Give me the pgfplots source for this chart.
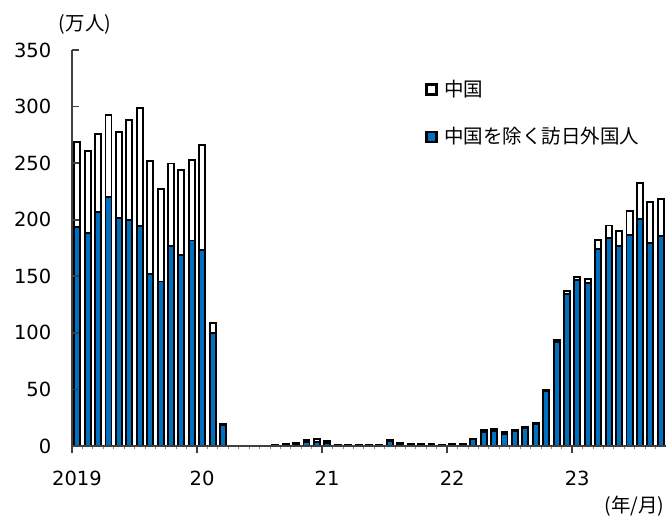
\documentclass[border=0pt]{standalone}
\usepackage{fontspec}
\setmainfont{DejaVu Sans}
\newfontfamily\jp{Noto Sans CJK JP}
\usepackage{pgfplots}
\pgfplotsset{compat=1.18}
\definecolor{visblue}{RGB}{0,112,192}
\definecolor{axisgray}{RGB}{64,64,64}

% Monthly visitor arrivals (10,000 persons), Jan 2019 - Sep 2023
% m: bar centre (month index + 0.5), other: excluding China, china: China
\pgfplotstableread{
m     other  china
0.5   193.5  75.4
1.5   188.1  72.4
2.5   206.9  69.1
3.5   220.1  72.6
4.5   201.7  75.6
5.5   200.0  88.1
6.5   194.1  105.0
7.5   152.0  100.1
8.5   145.4  81.9
9.5   176.6  73.1
10.5  169.0  75.1
11.5  181.6  71.0
12.5  173.6  92.5
13.5  99.6   8.9
14.5  18.3   1.0
15.5  0.27   0.02
16.5  0.15   0.02
17.5  0.20   0.06
18.5  0.30   0.08
19.5  0.60   0.26
20.5  0.90   0.47
21.5  1.90   0.84
22.5  3.70   2.00
23.5  3.80   2.10
24.5  3.00   1.60
25.5  0.40   0.30
26.5  0.80   0.40
27.5  0.70   0.40
28.5  0.60   0.40
29.5  0.60   0.30
30.5  4.60   0.50
31.5  2.00   0.60
32.5  1.30   0.50
33.5  1.70   0.50
34.5  1.60   0.50
35.5  0.90   0.30
36.5  1.30   0.50
37.5  1.20   0.50
38.5  5.80   0.80
39.5  12.5   1.45
40.5  13.3   1.40
41.5  11.0   1.00
42.5  13.5   1.00
43.5  15.5   1.50
44.5  19.2   1.50
45.5  48.6   1.30
46.5  91.9   1.60
47.5  134.3  2.70
48.5  146.6  3.10
49.5  143.9  3.60
50.5  174.2  7.60
51.5  184.1  10.8
52.5  176.9  13.0
53.5  186.5  20.9
54.5  200.8  31.3
55.5  179.6  36.4
56.5  185.8  32.6
}\visitors

\begin{document}
\fontsize{19.5bp}{23bp}\selectfont
\begin{tikzpicture}
\useasboundingbox (-72bp,-70bp) rectangle (599bp,446bp);
\begin{axis}[
  scale only axis,
  width=594bp, height=396bp,
  xmin=0, xmax=57, ymin=0, ymax=350,
  ybar stacked, bar width=0.58,
  axis on top,
  axis x line*=bottom, axis y line*=left,
  axis line style={draw=axisgray, line width=1.8bp, -},
  ytick={0,50,...,350},
  xtick={0,12,24,36,48},
  xticklabels={2019,20,21,22,23},
  minor xtick={1,...,56},
  tick align=inside,
  xtick align=outside,
  major tick length=7bp, minor tick length=3bp,
  tick style={draw=axisgray, line width=1.5bp},
  ytick style={draw=axisgray, line width=1.8bp},
  minor tick style={draw=axisgray!60, line width=0.8bp},
  /pgf/number format/assume math mode=true,
  yticklabel style={xshift=-14bp},
  xticklabel style={xshift=5bp, yshift=-11bp},
  legend style={draw=none, fill=none, at={(0.589,0.84)}, anchor=west,
    legend cell align=left, row sep=26bp, nodes={inner sep=1bp}},
]
\addlegendimage{legend image code/.code={\draw[fill=white, draw=black, line width=2.6bp] (-7bp,-5bp) rectangle (3bp,5bp); \path[draw=none, fill=none] (3bp,0bp) -- (10bp,0bp);}}
\addlegendentry{\jp 中国}
\addlegendimage{legend image code/.code={\draw[fill=visblue, draw=black, line width=2.6bp] (-7bp,-5bp) rectangle (3bp,5bp); \path[draw=none, fill=none] (3bp,0bp) -- (10bp,0bp);}}
\addlegendentry{\jp 中国を除く訪日外国人}

\addplot[fill=visblue, draw=black, line width=1.9bp, forget plot] table[x=m, y=other] {\visitors};
\addplot[fill=white, draw=black, line width=1.9bp, forget plot] table[x=m, y=china] {\visitors};
\end{axis}
\node[font=\jp, anchor=center] at (13bp,422bp) {(万人)};
\node[font=\jp, anchor=east] at (599bp,-60bp) {(年/月)};
\end{tikzpicture}
\end{document}
